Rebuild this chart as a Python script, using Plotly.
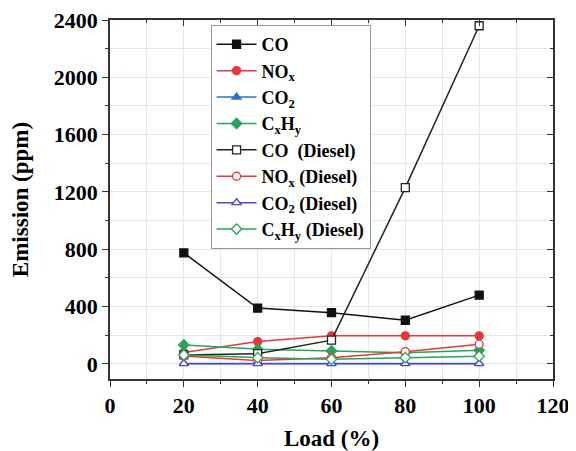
import plotly.graph_objects as go

load = [20, 40, 60, 80, 100]
co = [775, 390, 358, 305, 480]
nox = [80, 156, 196, 196, 196]
co2 = [4, 4, 4, 4, 4]
cxhy = [133, 103, 91, 79, 96]
co_d = [63, 72, 166, 1230, 2360]
nox_d = [56, 24, 44, 86, 138]
co2_d = [2, 2, 2, 2, 2]
cxhy_d = [63, 44, 33, 44, 54]

x_ticks = [0, 20, 40, 60, 80, 100, 120]
y_ticks = [0, 400, 800, 1200, 1600, 2000, 2400]

series = [
    ("CO", co, "#111111", "#111111", "square"),
    ("NO<sub>x</sub>", nox, "#e8363c", "#e8363c", "circle"),
    ("CO<sub>2</sub>", co2, "#2f6fd0", "#2f6fd0", "triangle-up"),
    ("C<sub>x</sub>H<sub>y</sub>", cxhy, "#27a35a", "#27a35a", "diamond"),
    ("CO  (Diesel)", co_d, "#222222", "white", "square"),
    ("NO<sub>x</sub> (Diesel)", nox_d, "#e8363c", "white", "circle"),
    ("CO<sub>2</sub> (Diesel)", co2_d, "#4a4ad0", "white", "triangle-up"),
    ("C<sub>x</sub>H<sub>y</sub> (Diesel)", cxhy_d, "#27a35a", "white", "diamond"),
]

fig = go.Figure()
for name, vals, col, fill, sym in series:
    fig.add_trace(go.Scatter(
        x=load, y=vals, name="<b>" + name + "</b>", mode="lines+markers",
        line=dict(color=col, width=1.5),
        marker=dict(symbol=sym, size=8, color=fill, line=dict(color=col, width=1.3)),
        cliponaxis=False,
    ))

# invisible trace for mirrored (inward-tick) axes
fig.add_trace(go.Scatter(x=[None], y=[None], xaxis="x2", yaxis="y2", showlegend=False, hoverinfo="skip"))

y_lo = -105
grid = "#e6e6e6"
tickfont = dict(family="Liberation Serif", size=22, color="black")
titlefont = dict(family="Liberation Serif", size=23, color="black")
fig.update_layout(
    width=568, height=443,
    margin=dict(l=102, r=23, t=12, b=72),
    paper_bgcolor="white", plot_bgcolor="white",
    font=dict(family="Liberation Serif", size=17, color="black"),
    xaxis=dict(
        range=[0, 120], tickvals=x_ticks,
        ticktext=["<b>%d</b>" % v for v in x_ticks],
        ticks="outside", ticklen=6, tickwidth=1.2, tickcolor="#333",
        showline=True, linecolor="#333", linewidth=1.5,
        showgrid=True, gridcolor=grid, gridwidth=1, zeroline=False, automargin=False,
        minor=dict(dtick=10, ticks="outside", ticklen=3, tickcolor="#333", showgrid=True, gridcolor=grid),
        title=dict(text="<b>Load (%)</b>", font=titlefont, standoff=16),
        tickfont=tickfont, ticklabeloverflow="allow",
    ),
    yaxis=dict(
        range=[y_lo, 2400], tickvals=y_ticks,
        ticktext=["<b>%d</b>" % v for v in y_ticks],
        ticks="outside", ticklen=6, tickwidth=1.2, tickcolor="#333",
        showline=True, linecolor="#333", linewidth=1.5,
        showgrid=True, gridcolor=grid, gridwidth=1, zeroline=False, automargin=False,
        minor=dict(dtick=200, ticks="outside", ticklen=3, tickcolor="#333", showgrid=True, gridcolor=grid),
        title=dict(text="<b>Emission (ppm)</b>", font=titlefont, standoff=22),
        tickfont=tickfont, ticklabeloverflow="allow",
    ),
    xaxis2=dict(
        overlaying="x", side="top", range=[0, 120], tickvals=x_ticks, showticklabels=False,
        ticks="inside", ticklen=6, tickwidth=1.2, tickcolor="#333", automargin=False,
        showline=True, linecolor="#333", linewidth=1.5, showgrid=False, zeroline=False,
        minor=dict(dtick=10, ticks="inside", ticklen=3, tickcolor="#333"),
    ),
    yaxis2=dict(
        overlaying="y", side="right", range=[y_lo, 2400], tickvals=y_ticks,
        showticklabels=False, automargin=False,
        ticks="inside", ticklen=6, tickwidth=1.2, tickcolor="#333",
        showline=True, linecolor="#333", linewidth=1.5, showgrid=False, zeroline=False,
        minor=dict(dtick=200, ticks="inside", ticklen=3, tickcolor="#333"),
    ),
    legend=dict(
        x=0.227, y=0.986, xanchor="left", yanchor="top",
        bgcolor="white", bordercolor="#999", borderwidth=1,
        font=dict(family="Liberation Serif", size=18, color="black"),
        tracegroupgap=0, itemwidth=40,
    ),
    showlegend=True,
)

fig.write_html("out.html")
